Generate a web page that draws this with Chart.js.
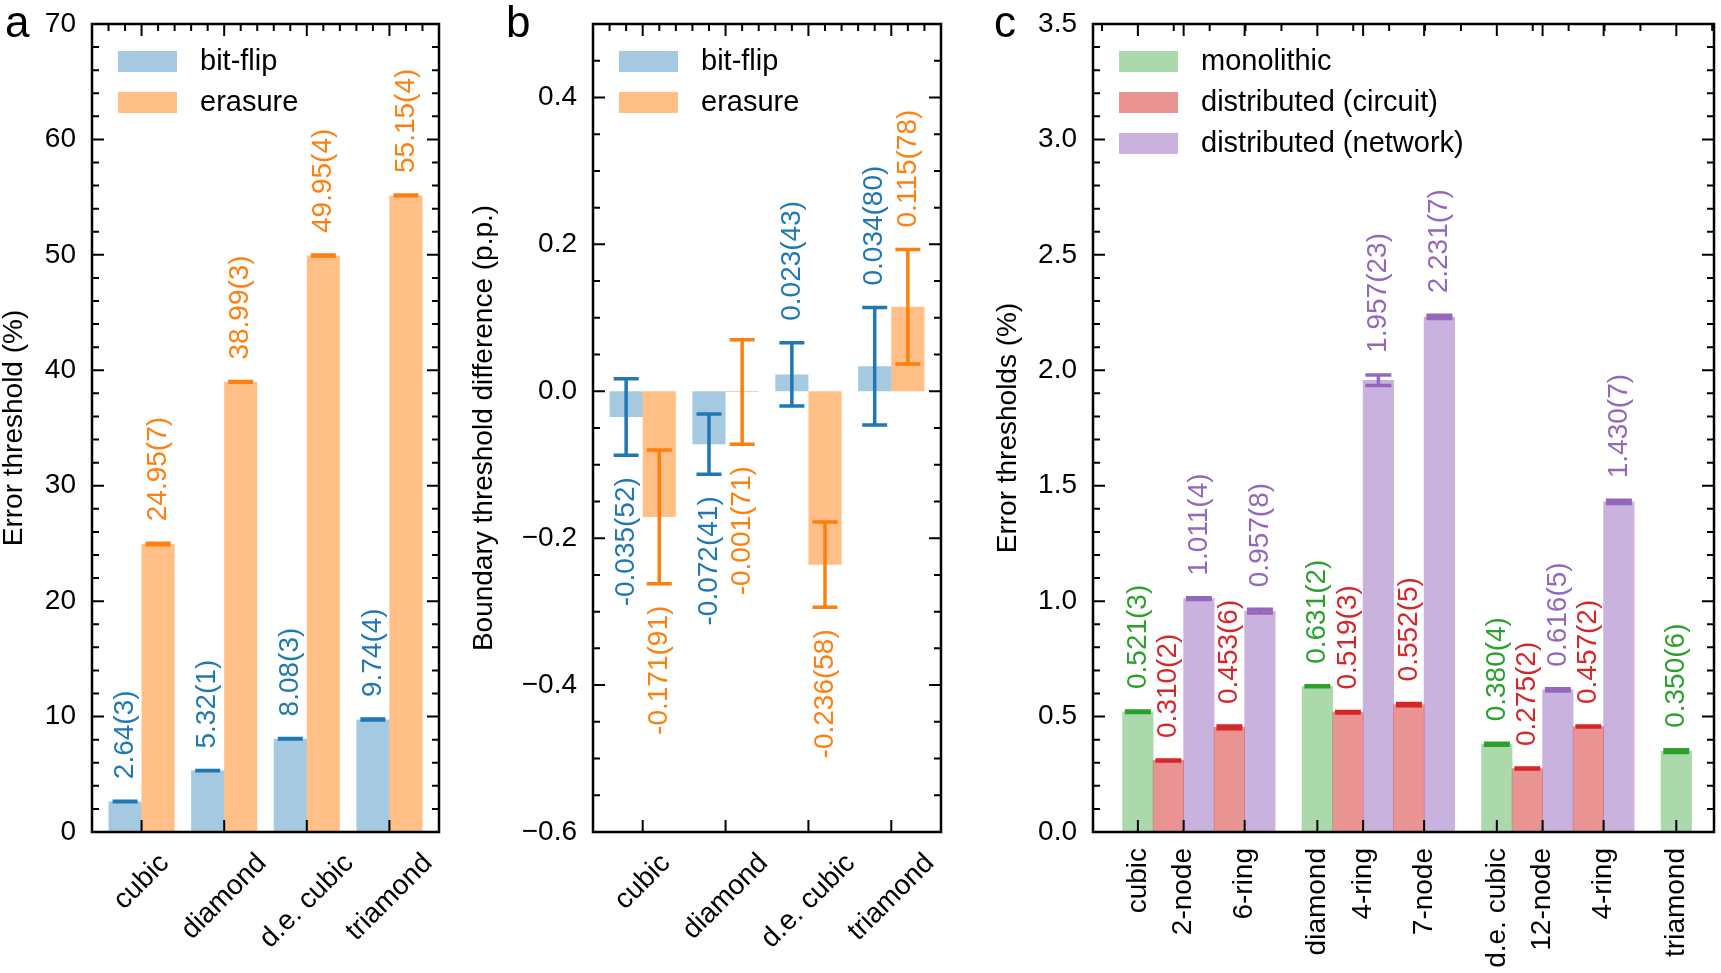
<!DOCTYPE html>
<html>
<head>
<meta charset="utf-8">
<script src="https://cdn.jsdelivr.net/npm/chart.js@4.4.1/dist/chart.umd.min.js"></script>
<style>
  html, body { margin: 0; padding: 0; background: #fff; }
  #wrap { position: relative; width: 1721px; height: 973px; }
  #wrap canvas { position: absolute; left: 0; top: 0; }
</style>
</head>
<body>
<div id="wrap">
  <canvas id="chartA" width="1721" height="973"></canvas>
  <canvas id="chartB" width="1721" height="973"></canvas>
  <canvas id="chartC" width="1721" height="973"></canvas>
</div>
<script>
// ---- panel a: thresholds per lattice ----
const latticesA = ['cubic', 'diamond', 'd.e. cubic', 'triamond'];
const bitflipA = [2.64, 5.32, 8.08, 9.74];
const bitflipErrA = [0.03, 0.01, 0.03, 0.04];
const erasureA = [24.95, 38.99, 49.95, 55.15];
const erasureErrA = [0.07, 0.03, 0.04, 0.04];
const yTicksA = [0, 10, 20, 30, 40, 50, 60, 70];

// ---- panel b: boundary threshold difference ----
const bitflipB = [-0.035, -0.072, 0.023, 0.034];
const bitflipErrB = [0.052, 0.041, 0.043, 0.080];
const erasureB = [-0.171, -0.001, -0.236, 0.115];
const erasureErrB = [0.091, 0.071, 0.058, 0.078];
const yTicksB = [-0.6, -0.4, -0.2, 0.0, 0.2, 0.4];

// ---- panel c: monolithic vs distributed ----
const latticesC = ['cubic', 'diamond', 'd.e. cubic', 'triamond'];
const configsC = [['2-node', '6-ring'], ['4-ring', '7-node'], ['12-node', '4-ring'], []];
const monolithic = [0.521, 0.631, 0.380, 0.350];
const monolithicErr = [0.003, 0.002, 0.004, 0.006];
const circuit = [0.310, 0.453, 0.519, 0.552, 0.275, 0.457];
const circuitErr = [0.002, 0.006, 0.003, 0.005, 0.002, 0.002];
const network = [1.011, 0.957, 1.957, 2.231, 0.616, 1.430];
const networkErr = [0.004, 0.008, 0.023, 0.007, 0.005, 0.007];
const yTicksC = [0, 0.5, 1.0, 1.5, 2.0, 2.5, 3.0, 3.5];

const FONT = '"Liberation Sans", Arial, sans-serif';
const FS = 28;
const W = 1721, H = 973;

const BLUE = '#1f77b4', ORANGE = '#ff7f0e', GREEN = '#2ca02c', RED = '#d62728', PURPLE = '#9467bd';
const BLUE_FILL = 'rgba(31,119,180,0.4)';
const ORANGE_FILL = 'rgba(255,127,14,0.5)';
const GREEN_FILL = 'rgba(44,160,44,0.4)';
const RED_FILL = 'rgba(214,39,40,0.5)';
const PURPLE_FILL = 'rgba(148,103,189,0.5)';

function fmtVal(v, e, d) {
  return v.toFixed(d) + '(' + Math.round(e * Math.pow(10, d)) + ')';
}

// draws error bars, value labels, frame, ticks, axis text and legend
function makePanel(cfg) {
  return {
    id: 'panel' + cfg.letter,
    afterDatasetsDraw(chart) {
      const ctx = chart.ctx;
      const ys = chart.scales.y;
      ctx.save();
      chart.data.datasets.forEach((ds, di) => {
        const meta = chart.getDatasetMeta(di);
        const errs = cfg.errs[di];
        meta.data.forEach((bar, i) => {
          const v = ds.data[i].y, e = errs[i];
          const x = bar.x;
          const yHi = ys.getPixelForValue(v + e);
          const yLo = ys.getPixelForValue(v - e);
          ctx.strokeStyle = cfg.colors[di];
          ctx.lineWidth = 3.5;
          ctx.lineCap = 'butt';
          ctx.beginPath();
          ctx.moveTo(x, yHi); ctx.lineTo(x, yLo);
          ctx.moveTo(x - cfg.cap, yHi); ctx.lineTo(x + cfg.cap, yHi);
          ctx.moveTo(x - cfg.cap, yLo); ctx.lineTo(x + cfg.cap, yLo);
          ctx.stroke();

          // rotated value label beyond the error bar
          ctx.save();
          ctx.font = FS + 'px ' + FONT;
          ctx.fillStyle = cfg.colors[di];
          ctx.translate(x, v >= 0 ? yHi - 22 : yLo + 22);
          ctx.rotate(-Math.PI / 2);
          ctx.textAlign = v >= 0 ? 'left' : 'right';
          ctx.textBaseline = 'middle';
          ctx.fillText(fmtVal(v, e, cfg.decimals), 0, 0);
          ctx.restore();
        });
      });
      ctx.restore();
    },
    afterDraw(chart) {
      const ctx = chart.ctx;
      const ca = chart.chartArea;
      const xs = chart.scales.x, ys = chart.scales.y;
      ctx.save();
      ctx.strokeStyle = '#000';
      ctx.lineWidth = 2.5;
      ctx.strokeRect(ca.left, ca.top, ca.right - ca.left, ca.bottom - ca.top);

      // y ticks, inward on both sides
      ctx.lineWidth = 2;
      ctx.beginPath();
      const nMinor = Math.round((ys.max - ys.min) / cfg.yMinor);
      for (let k = 0; k <= nMinor; k++) {
        const v = ys.min + k * cfg.yMinor;
        const major = cfg.yTicks.some(t => Math.abs(t - v) < 1e-6);
        const len = major ? 12 : 7;
        const py = ys.getPixelForValue(v);
        ctx.moveTo(ca.left, py); ctx.lineTo(ca.left + len, py);
        ctx.moveTo(ca.right, py); ctx.lineTo(ca.right - len, py);
      }
      // x ticks: majors top and bottom, minors on top
      cfg.xTicks.forEach(t => {
        const px = xs.getPixelForValue(t.pos);
        ctx.moveTo(px, ca.bottom); ctx.lineTo(px, ca.bottom - 12);
        ctx.moveTo(px, ca.top); ctx.lineTo(px, ca.top + 12);
      });
      for (let v = Math.ceil(xs.min / 0.2 - 1e-6) * 0.2; v <= xs.max + 1e-6; v += 0.2) {
        const px = xs.getPixelForValue(v);
        ctx.moveTo(px, ca.top); ctx.lineTo(px, ca.top + 7);
      }
      ctx.stroke();

      ctx.fillStyle = '#000';
      ctx.font = FS + 'px ' + FONT;
      // y tick labels
      ctx.textAlign = 'right';
      ctx.textBaseline = 'middle';
      cfg.yTicks.forEach(v => {
        ctx.fillText(cfg.yFmt(v), ca.left - 16, ys.getPixelForValue(v));
      });
      // x tick labels
      cfg.xTicks.forEach(t => {
        const px = xs.getPixelForValue(t.pos);
        ctx.save();
        if (cfg.xRot === 45) {
          const L = ctx.measureText(t.text).width;
          const half = (L + FS) * Math.SQRT1_2 / 2;
          ctx.translate(px, ca.bottom + 17 + half);
          ctx.rotate(-Math.PI / 4);
          ctx.textAlign = 'center';
        } else {
          ctx.translate(px, ca.bottom + 16);
          ctx.rotate(-Math.PI / 2);
          ctx.textAlign = 'right';
        }
        ctx.textBaseline = 'middle';
        ctx.fillText(t.text, 0, 0);
        ctx.restore();
      });
      // y axis title
      ctx.save();
      ctx.translate(cfg.titleX, (ca.top + ca.bottom) / 2);
      ctx.rotate(-Math.PI / 2);
      ctx.textAlign = 'center';
      ctx.textBaseline = 'middle';
      ctx.fillText(cfg.title, 0, 0);
      ctx.restore();

      // legend in the upper left corner
      ctx.font = '29px ' + FONT;
      chart.data.datasets.forEach((ds, k) => {
        const y0 = ca.top + 27 + k * 41;
        ctx.fillStyle = ds.backgroundColor;
        ctx.fillRect(ca.left + 26, y0, 59, 21);
        ctx.fillStyle = '#000';
        ctx.textAlign = 'left';
        ctx.textBaseline = 'middle';
        ctx.fillText(ds.label, ca.left + 108, y0 + 11);
      });

      // panel letter
      ctx.font = '44px ' + FONT;
      ctx.textAlign = 'left';
      ctx.textBaseline = 'alphabetic';
      ctx.fillText(cfg.letter, cfg.letterX, 37);
      ctx.restore();
    }
  };
}

function baseOptions(area, xMin, xMax, yMin, yMax, tickPos, barOpts) {
  return {
    responsive: false,
    animation: false,
    devicePixelRatio: 1,
    layout: { padding: { left: area[0], right: W - area[1], top: area[2], bottom: H - area[3] } },
    plugins: { legend: { display: false }, tooltip: { enabled: false } },
    datasets: { bar: Object.assign({ borderWidth: 0 }, barOpts) },
    scales: {
      x: {
        type: 'linear', display: false, offset: false, min: xMin, max: xMax,
        afterBuildTicks: s => { s.ticks = tickPos.map(v => ({ value: v })); }
      },
      y: { type: 'linear', display: false, min: yMin, max: yMax }
    }
  };
}

// ---- chart a ----
const posA = latticesA.map((_, i) => i);
new Chart(document.getElementById('chartA'), {
  type: 'bar',
  data: {
    datasets: [
      { label: 'bit-flip', data: bitflipA.map((v, i) => ({ x: posA[i], y: v })), backgroundColor: BLUE_FILL },
      { label: 'erasure', data: erasureA.map((v, i) => ({ x: posA[i], y: v })), backgroundColor: ORANGE_FILL }
    ]
  },
  options: baseOptions([92, 439, 24, 832], -0.6, 3.6, 0, 70, posA, { categoryPercentage: 0.8, barPercentage: 1 }),
  plugins: [makePanel({
    letter: 'a', letterX: 5, title: 'Error threshold (%)', titleX: 14,
    errs: [bitflipErrA, erasureErrA], colors: [BLUE, ORANGE], decimals: 2, cap: 12.5,
    yTicks: yTicksA, yMinor: 2, yFmt: v => String(v),
    xTicks: latticesA.map((t, i) => ({ pos: posA[i], text: t })), xRot: 45
  })]
});

// ---- chart b ----
new Chart(document.getElementById('chartB'), {
  type: 'bar',
  data: {
    datasets: [
      { label: 'bit-flip', data: bitflipB.map((v, i) => ({ x: posA[i], y: v })), backgroundColor: BLUE_FILL },
      { label: 'erasure', data: erasureB.map((v, i) => ({ x: posA[i], y: v })), backgroundColor: ORANGE_FILL }
    ]
  },
  options: baseOptions([593, 941, 24, 832], -0.6, 3.6, -0.6, 0.5, posA, { categoryPercentage: 0.8, barPercentage: 1 }),
  plugins: [makePanel({
    letter: 'b', letterX: 506, title: 'Boundary threshold difference (p.p.)', titleX: 484,
    errs: [bitflipErrB, erasureErrB], colors: [BLUE, ORANGE], decimals: 3, cap: 12.5,
    yTicks: yTicksB, yMinor: 0.05, yFmt: v => v.toFixed(1).replace('-', '\u2212'),
    xTicks: latticesA.map((t, i) => ({ pos: posA[i], text: t })), xRot: 45
  })]
});

// ---- chart c ----
const BW = 0.17;
const monoData = [], circData = [], netData = [], ticksC = [];
let j = 0;
latticesC.forEach((name, g) => {
  monoData.push({ x: g, y: monolithic[g] });
  ticksC.push({ pos: g, text: name });
  configsC[g].forEach((cname, k) => {
    circData.push({ x: g + BW * (1 + 2 * k), y: circuit[j] });
    netData.push({ x: g + BW * (2 + 2 * k), y: network[j] });
    ticksC.push({ pos: g + BW * (1.5 + 2 * k), text: cname });
    j++;
  });
});
new Chart(document.getElementById('chartC'), {
  type: 'bar',
  data: {
    datasets: [
      { label: 'monolithic', data: monoData, backgroundColor: GREEN_FILL },
      { label: 'distributed (circuit)', data: circData, backgroundColor: RED_FILL },
      { label: 'distributed (network)', data: netData, backgroundColor: PURPLE_FILL }
    ]
  },
  options: baseOptions([1093, 1714, 24, 832], -0.25, 3.21, 0, 3.5, ticksC.map(t => t.pos),
    { grouped: false, categoryPercentage: 1, barPercentage: 1 }),
  plugins: [makePanel({
    letter: 'c', letterX: 994, title: 'Error thresholds (%)', titleX: 1008,
    errs: [monolithicErr, circuitErr, networkErr], colors: [GREEN, RED, PURPLE], decimals: 3, cap: 13,
    yTicks: yTicksC, yMinor: 0.1, yFmt: v => v.toFixed(1),
    xTicks: ticksC, xRot: 90
  })]
});
</script>
</body>
</html>
